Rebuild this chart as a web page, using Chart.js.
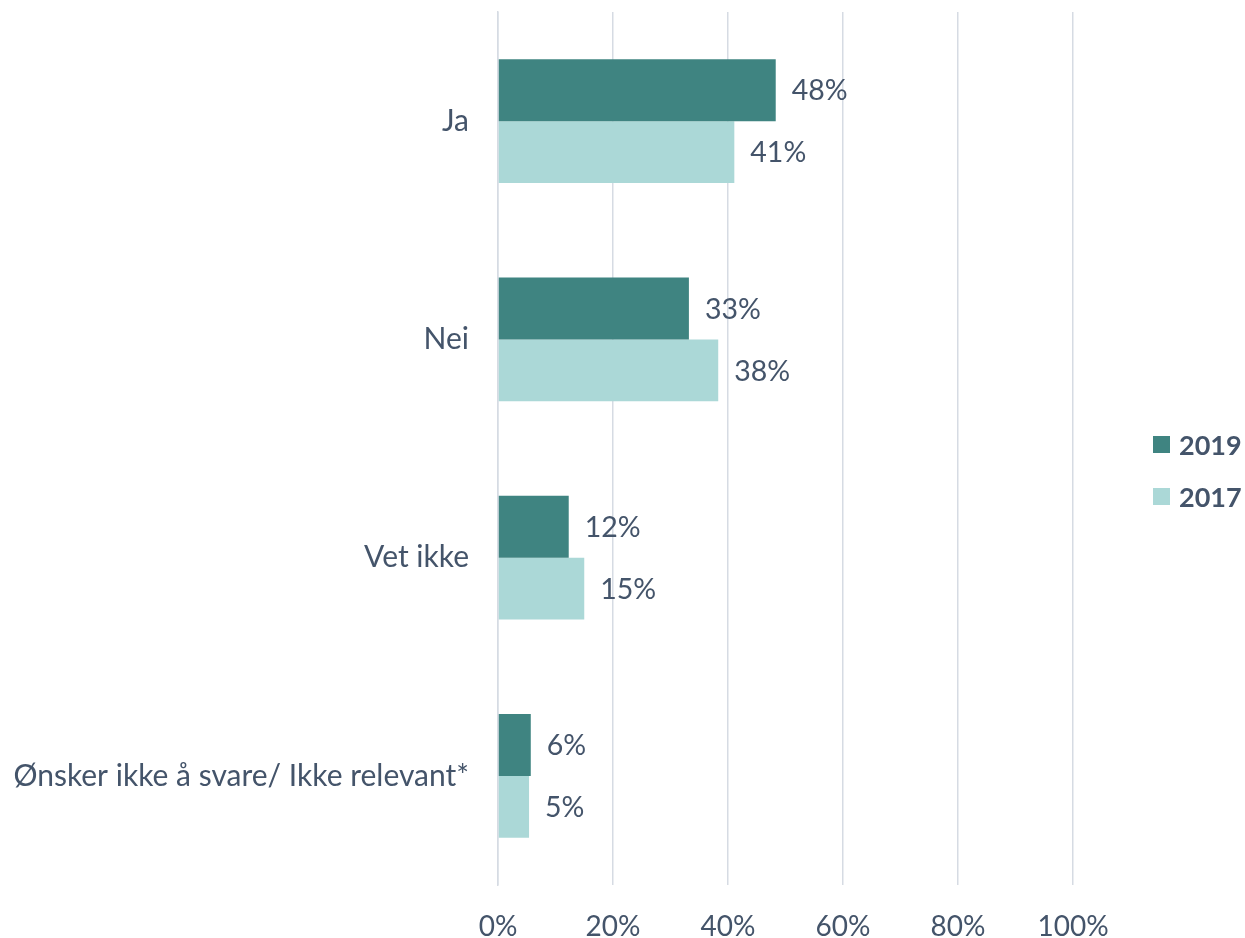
<!DOCTYPE html>
<html lang="no">
<head>
  <meta charset="UTF-8">
  <title>Ja / Nei 2019 vs 2017</title>
  <script src="https://cdn.jsdelivr.net/npm/chart.js"></script>
  <style>
    body {
      margin: 0;
      background: #ffffff;
      font-family: Lato, "Open Sans", sans-serif;
    }
    #wrap {
      position: relative;
      width: 1245px;
      height: 938px;
    }
    #legend {
      position: absolute;
      left: 1153px;
      top: 424px;
      color: #44546A;
      font-weight: bold;
      font-size: 27px;
    }
    .item {
      display: flex;
      align-items: center;
      height: 40px;
      margin-bottom: 12px;
    }
    .box {
      width: 17px;
      height: 17px;
      margin-right: 9px;
    }
  </style>
</head>
<body>
  <div id="wrap">
    <canvas id="chart" width="1245" height="938"></canvas>
    <div id="legend"></div>
  </div>

  <script>
    const categories = ["Ja", "Nei", "Vet ikke", "Ønsker ikke å svare/ Ikke relevant*"];
    const values2019 = [48.3, 33.2, 12.3, 5.7];
    const values2017 = [41.1, 38.3, 15.0, 5.4];
    const xTicks = [0, 20, 40, 60, 80, 100];

    const textColor = "#44546A";
    const gridColor = "#D6DBE3";

    // value labels to the right of each bar
    const barLabels = {
      id: "barLabels",
      afterDatasetsDraw(chart) {
        const ctx = chart.ctx;
        ctx.save();
        ctx.font = "28.5px Lato";
        ctx.fillStyle = textColor;
        ctx.textAlign = "left";
        ctx.textBaseline = "middle";
        chart.data.datasets.forEach((ds, i) => {
          chart.getDatasetMeta(i).data.forEach((bar, j) => {
            ctx.fillText(Math.round(ds.data[j]) + "%", bar.x + 16, bar.y + 1);
          });
        });
        ctx.restore();
      }
    };

    const chart = new Chart(document.getElementById("chart"), {
      type: "bar",
      data: {
        labels: categories,
        datasets: [
          { label: "2019", data: values2019, backgroundColor: "#3F8481" },
          { label: "2017", data: values2017, backgroundColor: "#ABD8D7" }
        ]
      },
      options: {
        indexAxis: "y",
        responsive: false,
        animation: false,
        categoryPercentage: 0.568,
        barPercentage: 1,
        layout: { padding: { top: 12, right: 172, left: 0, bottom: 0 } },
        plugins: {
          legend: { display: false },
          tooltip: { enabled: false }
        },
        scales: {
          x: {
            min: 0,
            max: 100,
            afterBuildTicks(scale) {
              scale.ticks = xTicks.map(v => ({ value: v }));
            },
            afterFit(scale) {
              scale.height = 53;
              scale.paddingLeft = 0;
              scale.paddingRight = 0;
            },
            grid: { color: gridColor, lineWidth: 1.5, drawTicks: false },
            border: { display: false },
            ticks: {
              padding: 25,
              color: textColor,
              font: { family: "Lato", size: 28 },
              callback: v => v + "%"
            }
          },
          y: {
            afterFit(scale) {
              scale.width = 498;
              scale.paddingTop = 0;
              scale.paddingBottom = 0;
            },
            grid: { display: false, drawTicks: false },
            border: { display: true, color: gridColor, width: 1.5 },
            ticks: {
              padding: 29,
              color: textColor,
              font: { family: "Lato", size: 30 }
            }
          }
        }
      },
      plugins: [barLabels]
    });

    // legend built from the chart datasets
    const legend = document.getElementById("legend");
    chart.data.datasets.forEach(ds => {
      const item = document.createElement("div");
      item.className = "item";
      item.innerHTML = '<span class="box" style="background:' + ds.backgroundColor + '"></span><span>' + ds.label + '</span>';
      legend.appendChild(item);
    });
  </script>
</body>
</html>
